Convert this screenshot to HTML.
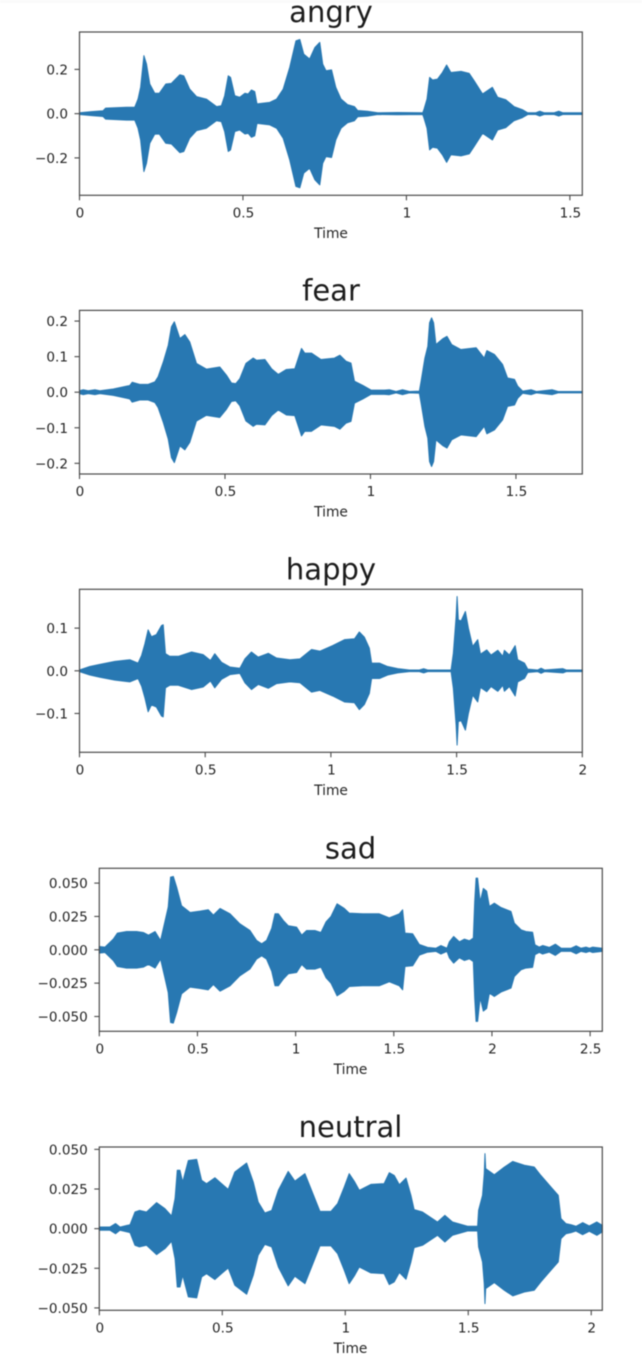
<!DOCTYPE html>
<html lang="en">
<head>
<meta charset="utf-8">
<title>Emotion waveforms</title>
<style>
html,body{margin:0;padding:0;background:#fff;width:642px;height:1372px;overflow:hidden}
svg{display:block;filter:blur(0.4px)}
text{font-family:"DejaVu Sans","Liberation Sans",sans-serif;fill:#262626}
.tick{font-size:13.6px}
.axis-title{font-size:13.8px}
.title{font-size:29px;fill:#1c1c1c}
</style>
</head>
<body>
<svg id="chart" xmlns="http://www.w3.org/2000/svg" width="642" height="1372" viewBox="0 0 642 1372">
  <rect x="0" y="0" width="642" height="1372" fill="#fff"/>
  <rect x="0" y="0" width="642" height="3" fill="#fafafa"/>
  <g id="panel-angry">
    <text class="title" x="331" y="22" text-anchor="middle">angry</text>
    <text class="axis-title" x="331" y="238" text-anchor="middle">Time</text>
  </g>
  <g id="panel-fear">
    <text class="title" x="331" y="300.5" text-anchor="middle">fear</text>
    <text class="axis-title" x="331" y="516.5" text-anchor="middle">Time</text>
  </g>
  <g id="panel-happy">
    <text class="title" x="331" y="579.5" text-anchor="middle">happy</text>
    <text class="axis-title" x="331" y="795" text-anchor="middle">Time</text>
  </g>
  <g id="panel-sad">
    <text class="title" x="350.5" y="858.5" text-anchor="middle">sad</text>
    <text class="axis-title" x="350.5" y="1074" text-anchor="middle">Time</text>
  </g>
  <g id="panel-neutral">
    <text class="title" x="350.5" y="1137" text-anchor="middle">neutral</text>
    <text class="axis-title" x="350.5" y="1353" text-anchor="middle">Time</text>
  </g>
</svg>
<script>
const angryTimes = [0,.037,.072,.08,.144,.169,.179,.187,.197,.205,.215,.23,.244,.264,.281,.307,.319,.337,.358,.388,.419,.434,.444,.455,.462,.475,.49,.506,.516,.526,.536,.543,.582,.603,.623,.643,.662,.674,.686,.704,.72,.735,.744,.754,.771,.784,.8,.82,.841,.851,.881,.912,.973,1.05,1.054,1.063,1.071,1.08,1.095,1.11,1.123,1.136,1.167,1.192,1.207,1.233,1.263,1.279,1.304,1.329,1.355,1.371,1.396,1.408,1.421,1.452,1.466,1.478,1.538];
const angryPeaks = [.004,.009,.013,.025,.029,.029,.066,.12,.262,.224,.134,.093,.092,.134,.137,.176,.171,.111,.077,.066,.032,.036,.081,.171,.164,.081,.074,.092,.089,.107,.1,.044,.051,.066,.111,.209,.329,.335,.269,.247,.299,.322,.224,.194,.198,.119,.066,.041,.032,.014,.011,.004,.005,.004,.021,.066,.164,.152,.156,.186,.22,.186,.191,.182,.149,.089,.119,.074,.063,.032,.018,.004,.004,.011,.004,.004,.011,.004,.004];

const fearTimes = [0,.013,.03,.053,.07,.116,.173,.181,.207,.236,.259,.27,.288,.305,.316,.326,.345,.362,.379,.402,.436,.482,.505,.522,.537,.551,.572,.597,.608,.637,.66,.683,.711,.74,.763,.774,.797,.83,.876,.895,.916,.933,.945,.974,1.002,1.048,1.065,1.088,1.11,1.134,1.168,1.174,1.187,1.197,1.203,1.21,1.217,1.225,1.248,1.263,1.279,1.311,1.363,1.391,1.4,1.426,1.454,1.471,1.495,1.506,1.523,1.552,1.57,1.624,1.645,1.728];
const fearPeaks = [.004,.007,.004,.007,.004,.009,.019,.028,.022,.022,.029,.043,.085,.132,.184,.198,.151,.162,.141,.081,.065,.071,.048,.026,.024,.038,.081,.096,.09,.092,.066,.05,.064,.066,.123,.11,.11,.092,.096,.104,.087,.082,.031,.019,.006,.006,.007,.002,.007,.002,.003,.031,.096,.129,.195,.209,.195,.134,.15,.157,.134,.12,.125,.096,.117,.106,.078,.04,.036,.017,.003,.007,.002,.007,.002,.002];

const happyTimes = [0,.041,.081,.141,.2,.233,.247,.26,.273,.286,.306,.326,.333,.342,.359,.393,.446,.492,.521,.538,.565,.598,.638,.658,.684,.711,.751,.784,.837,.877,.923,.956,1.007,1.054,1.094,1.113,1.133,1.153,1.162,1.193,1.226,1.266,1.312,1.352,1.369,1.385,1.478,1.487,1.498,1.502,1.507,1.518,1.535,1.547,1.564,1.584,1.595,1.62,1.637,1.664,1.684,1.69,1.71,1.733,1.743,1.77,1.783,1.823,1.836,1.85,1.923,1.936,2];
const happyPeaks = [.002,.01,.015,.022,.026,.018,.036,.063,.096,.08,.085,.106,.108,.04,.034,.034,.044,.038,.024,.04,.02,.009,.006,.028,.044,.032,.041,.03,.026,.028,.05,.046,.059,.073,.075,.091,.079,.053,.018,.018,.01,.005,.002,.002,.005,.002,.002,.041,.127,.174,.119,.117,.139,.1,.057,.073,.039,.049,.037,.048,.034,.048,.037,.059,.026,.018,.004,.002,.006,.002,.005,.002,.002];

const sadTimes = [0,.029,.071,.092,.139,.19,.224,.25,.284,.312,.334,.351,.363,.377,.394,.419,.462,.513,.555,.581,.615,.666,.716,.767,.801,.827,.852,.878,.895,.912,.937,.963,1.005,1.031,1.056,1.098,1.129,1.155,1.18,1.211,1.248,1.273,1.341,1.426,1.477,1.528,1.545,1.557,1.596,1.63,1.672,1.715,1.74,1.771,1.783,1.805,1.834,1.859,1.885,1.905,1.912,1.919,1.927,1.94,1.956,1.973,1.987,2.012,2.046,2.097,2.114,2.148,2.173,2.207,2.219,2.241,2.258,2.292,2.323,2.352,2.403,2.429,2.453,2.479,2.497,2.513,2.562];
const sadPeaks = [.0025,.002,.008,.0125,.0137,.0137,.013,.011,.0137,.007,.021,.032,.0545,.055,.047,.033,.028,.029,.03,.026,.031,.027,.0195,.0145,.007,.0045,.007,.016,.027,.027,.022,.018,.017,.011,.0145,.0145,.013,.021,.025,.0345,.031,.0275,.027,.027,.024,.027,.03,.0125,.012,.004,.0018,.0012,.0032,.0012,.006,.01,.006,.008,.0068,.0088,.036,.0537,.0537,.036,.046,.044,.0325,.035,.0317,.0287,.02,.015,.0137,.0132,.0037,.002,.0032,.0018,.0042,.0012,.0012,.003,.0012,.002,.0012,.002,.0012];

const neutralTimes = [0,.043,.066,.084,.125,.145,.163,.192,.233,.267,.294,.308,.317,.328,.339,.362,.396,.416,.436,.47,.497,.524,.551,.599,.626,.646,.673,.701,.728,.768,.795,.836,.863,.897,.942,.969,.996,1.016,1.037,1.057,1.104,1.158,1.179,1.199,1.22,1.247,1.267,1.28,1.314,1.375,1.405,1.436,1.497,1.538,1.542,1.558,1.565,1.568,1.571,1.606,1.647,1.681,1.728,1.768,1.795,1.836,1.866,1.877,1.897,1.918,1.938,1.965,1.992,2.023,2.045];
const neutralPeaks = [.001,.001,.0032,.001,.0025,.0105,.0115,.0105,.0164,.0126,.008,.019,.0368,.0368,.0294,.043,.0437,.0305,.0284,.0321,.0284,.0248,.0357,.0414,.0294,.0168,.0099,.0115,.0242,.0361,.03,.0347,.0242,.0109,.0109,.0158,.0263,.0347,.0298,.0242,.0279,.0284,.0353,.0336,.0277,.0319,.021,.012,.0105,.0042,.0084,.0042,.0015,.0015,.0116,.021,.0347,.0473,.0378,.034,.0389,.0424,.04,.0389,.0336,.0263,.021,.0063,.0032,.0025,.0015,.0038,.0017,.0042,.0021];

const angryXTicks = [0,.5,1,1.5];
const angryXLabels = ['0','0.5','1','1.5'];
const angryYTicks = [.2,0,-.2];
const angryYLabels = ['0.2','0.0','\u22120.2'];
const fearXTicks = [0,.5,1,1.5];
const fearXLabels = ['0','0.5','1','1.5'];
const fearYTicks = [.2,.1,0,-.1,-.2];
const fearYLabels = ['0.2','0.1','0.0','\u22120.1','\u22120.2'];
const happyXTicks = [0,.5,1,1.5,2];
const happyXLabels = ['0','0.5','1','1.5','2'];
const happyYTicks = [.1,0,-.1];
const happyYLabels = ['0.1','0.0','\u22120.1'];
const sadXTicks = [0,.5,1,1.5,2,2.5];
const sadXLabels = ['0','0.5','1','1.5','2','2.5'];
const sadYTicks = [.05,.025,0,-.025,-.05];
const sadYLabels = ['0.050','0.025','0.000','\u22120.025','\u22120.050'];
const neutralXTicks = [0,.5,1,1.5,2];
const neutralXLabels = ['0','0.5','1','1.5','2'];
const neutralYTicks = [.05,.025,0,-.025,-.05];
const neutralYLabels = ['0.050','0.025','0.000','\u22120.025','\u22120.050'];

const angryXMax = 1.538, angryYMax = .369;
const fearXMax = 1.728, fearYMax = .23;
const happyXMax = 2, happyYMax = .191;
const sadXMax = 2.562, sadYMax = .0611;
const neutralXMax = 2.045, neutralYMax = .0515;

const NS = 'http://www.w3.org/2000/svg';
const WAVE_COLOR = '#2878b2';
const AXIS_COLOR = '#4a4a4a';

function make(tag, attrs, parent) {
  const el = document.createElementNS(NS, tag);
  for (const k in attrs) el.setAttribute(k, attrs[k]);
  parent.appendChild(el);
  return el;
}

function drawPanel(id, box, xMax, yMax, times, peaks, xTicks, xLabels, yTicks, yLabels) {
  const g = document.getElementById('panel-' + id);
  const xScale = t => box.left + (t / xMax) * (box.right - box.left);
  const yMid = (box.top + box.bottom) / 2;
  const yScale = v => yMid - (v / yMax) * (box.bottom - box.top) / 2;

  const upper = times.map((t, i) => xScale(t).toFixed(2) + ' ' + yScale(peaks[i]).toFixed(2));
  const lower = times.map((t, i) => xScale(t).toFixed(2) + ' ' + yScale(-peaks[i]).toFixed(2)).reverse();
  const wave = make('path', {d: 'M' + upper.concat(lower).join('L') + 'Z', fill: WAVE_COLOR, stroke: WAVE_COLOR, 'stroke-width': 1, 'stroke-linejoin': 'round'}, g);
  
  

  const frame = make('rect', {x: box.left, y: box.top, width: box.right - box.left, height: box.bottom - box.top, fill: 'none', stroke: AXIS_COLOR, 'stroke-width': 1.2}, g);
  
  

  xTicks.forEach((v, i) => {
    const x = xScale(v);
    const mark = make('line', {x1: x, x2: x, y1: box.bottom, y2: box.bottom + 5, stroke: AXIS_COLOR, 'stroke-width': 1.1}, g);
    
    
    const label = make('text', {class: 'tick', x: x + 0.5, y: box.bottom + 22, 'text-anchor': 'middle'}, g);
    
    
    label.textContent = xLabels[i];
  });

  yTicks.forEach((v, i) => {
    const y = yScale(v);
    const mark = make('line', {x1: box.left - 5, x2: box.left, y1: y, y2: y, stroke: AXIS_COLOR, 'stroke-width': 1.1}, g);
    
    
    const label = make('text', {class: 'tick', x: box.left - 11.5, y: y + 5, 'text-anchor': 'end'}, g);
    
    
    label.textContent = yLabels[i];
  });
}

drawPanel('angry', {left: 79.5, right: 582.3, top: 32, bottom: 195.3}, angryXMax, angryYMax, angryTimes, angryPeaks, angryXTicks, angryXLabels, angryYTicks, angryYLabels);
drawPanel('fear', {left: 79.5, right: 582.3, top: 310.4, bottom: 474}, fearXMax, fearYMax, fearTimes, fearPeaks, fearXTicks, fearXLabels, fearYTicks, fearYLabels);
drawPanel('happy', {left: 79.5, right: 582.3, top: 589.3, bottom: 752.3}, happyXMax, happyYMax, happyTimes, happyPeaks, happyXTicks, happyXLabels, happyYTicks, happyYLabels);
drawPanel('sad', {left: 99.3, right: 602.3, top: 868.3, bottom: 1031.3}, sadXMax, sadYMax, sadTimes, sadPeaks, sadXTicks, sadXLabels, sadYTicks, sadYLabels);
drawPanel('neutral', {left: 99.3, right: 602.3, top: 1147, bottom: 1310.3}, neutralXMax, neutralYMax, neutralTimes, neutralPeaks, neutralXTicks, neutralXLabels, neutralYTicks, neutralYLabels);
</script>
</body>
</html>
